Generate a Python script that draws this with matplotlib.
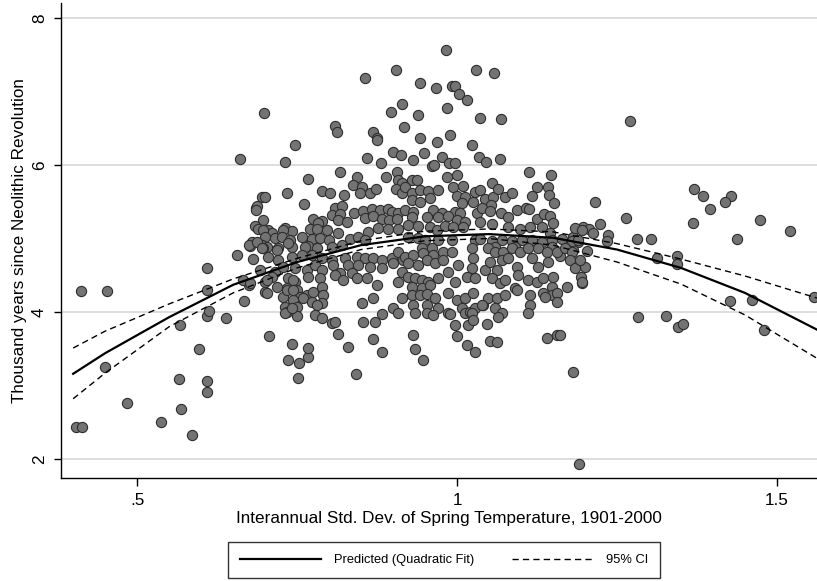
import numpy as np
import matplotlib
matplotlib.use("Agg")
import matplotlib.pyplot as plt
from matplotlib.lines import Line2D

plt.rcParams['font.family'] = ['Liberation Sans', 'DejaVu Sans']

# (std. dev. of spring temperature, thousand years since Neolithic Revolution)
low_points = [
    (0.405, 2.44), (0.414, 2.44), (0.413, 4.29), (0.453, 4.29), (0.450, 3.25), (0.484, 2.76), (0.538, 2.50),
    (0.567, 3.82), (0.566, 3.09), (0.569, 2.68), (0.586, 2.33), (0.597, 3.50), (0.609, 3.06), (0.609, 2.91),
    (0.609, 3.95), (0.613, 4.01), (0.609, 4.30), (0.639, 3.92), (0.667, 4.15), (0.675, 4.37), (0.706, 3.67),
    (0.742, 3.56), (0.736, 3.35), (0.753, 3.31), (0.752, 3.10), (0.609, 4.60), (0.656, 4.78), (0.767, 3.39),
    (0.767, 3.51), (0.814, 3.70), (0.830, 3.52), (0.869, 3.63), (0.883, 3.46), (0.842, 3.16), (0.947, 3.35),
    (0.934, 3.50), (0.931, 3.69), (1.000, 3.67), (1.016, 3.55), (1.028, 3.46), (1.052, 3.61), (1.063, 3.59),
    (1.141, 3.65), (1.156, 3.69), (1.181, 3.18), (1.190, 1.93), (1.161, 3.69), (0.805, 3.85), (0.853, 3.86),
    (0.872, 3.86), (0.997, 3.82), (1.017, 3.82), (1.047, 3.84),
]

high_points = [
    (0.661, 6.08), (0.698, 6.71), (0.731, 6.04), (0.734, 5.62), (0.747, 6.27), (0.695, 5.56), (0.700, 5.56),
    (0.686, 5.41), (0.983, 7.56), (0.905, 7.29), (0.856, 7.18), (1.030, 7.29), (1.058, 7.25), (0.942, 7.12),
    (0.967, 7.05), (0.992, 7.07), (0.997, 7.07), (1.003, 6.97), (1.015, 6.88), (0.914, 6.83), (0.897, 6.72),
    (0.939, 6.68), (0.984, 6.78), (1.036, 6.64), (1.069, 6.63), (0.809, 6.53), (0.813, 6.45), (0.917, 6.52),
    (0.869, 6.45), (0.875, 6.37), (0.942, 6.37), (0.989, 6.41), (0.969, 6.31), (1.023, 6.27), (0.900, 6.18),
    (0.913, 6.14), (0.948, 6.16), (0.859, 6.10), (0.931, 6.07), (0.977, 6.11), (1.034, 6.11), (1.045, 6.04),
    (1.067, 6.08), (0.881, 6.03), (0.961, 5.99), (0.964, 6.00), (0.988, 6.03), (0.997, 6.03), (1.113, 5.90),
    (1.147, 5.86), (0.817, 5.90), (0.767, 5.81), (0.761, 5.47), (0.789, 5.65), (0.802, 5.62), (0.875, 6.34),
    (1.270, 6.60),
]

right_points = [
    (1.370, 5.67), (1.384, 5.58), (1.395, 5.40), (1.428, 5.58), (1.419, 5.50), (1.369, 5.21), (1.473, 5.25),
    (1.520, 5.10), (1.438, 4.99), (1.216, 5.50), (1.264, 5.28), (1.223, 5.20), (1.197, 5.16), (1.206, 5.13),
    (1.212, 5.08), (1.236, 5.05), (1.234, 4.97), (1.281, 5.00), (1.303, 5.00), (1.181, 5.02), (1.189, 4.95),
    (1.181, 4.84), (1.203, 4.83), (1.190, 4.70), (1.200, 4.61), (1.194, 4.48), (1.195, 4.40), (1.313, 4.73),
    (1.344, 4.76), (1.344, 4.65), (1.161, 4.76), (1.283, 3.93), (1.327, 3.95), (1.345, 3.80), (1.353, 3.84),
    (1.427, 4.15), (1.461, 4.16), (1.480, 3.76), (1.558, 4.20),
]

core_top = [
    (0.844, 5.84), (0.837, 5.73), (0.851, 5.70), (0.889, 5.84), (0.906, 5.90), (0.908, 5.80), (0.914, 5.76),
    (0.823, 5.59), (0.848, 5.62), (0.864, 5.62), (0.873, 5.67), (0.905, 5.67), (0.914, 5.62), (0.687, 5.44),
    (0.686, 5.39), (0.809, 5.41), (0.820, 5.44), (0.839, 5.35), (0.805, 5.32), (0.817, 5.33), (0.853, 5.37),
    (0.867, 5.40), (0.880, 5.39), (0.892, 5.40), (0.898, 5.36), (0.908, 5.35), (0.856, 5.28), (0.869, 5.31),
    (0.883, 5.27), (0.894, 5.25), (0.906, 5.27), (0.775, 5.27), (0.789, 5.24), (0.783, 5.21), (0.814, 5.25),
    (0.828, 5.22), (0.697, 5.25), (0.684, 5.17), (0.689, 5.13), (0.705, 5.12), (0.711, 5.08), (0.731, 5.14),
    (0.742, 5.10), (0.770, 5.13), (0.781, 5.13), (0.797, 5.12), (0.814, 5.08), (0.861, 5.09), (0.877, 5.14),
    (0.892, 5.13), (0.908, 5.13), (0.697, 5.12), (0.728, 5.12),
    (0.984, 5.84), (1.000, 5.86), (0.930, 5.80), (0.938, 5.80), (0.994, 5.70), (1.009, 5.72), (1.055, 5.76),
    (1.125, 5.70), (1.142, 5.70), (1.117, 5.58), (1.144, 5.59), (0.919, 5.70), (0.930, 5.62), (0.942, 5.66),
    (0.955, 5.65), (0.970, 5.66), (1.000, 5.58), (1.012, 5.56), (1.028, 5.63), (1.036, 5.66), (1.044, 5.54),
    (1.056, 5.56), (1.064, 5.67), (1.075, 5.56), (1.086, 5.62), (0.930, 5.52), (0.942, 5.50), (0.958, 5.55),
    (1.008, 5.48), (1.025, 5.50), (1.053, 5.46), (1.152, 5.48), (0.919, 5.39), (0.931, 5.36), (0.962, 5.39),
    (0.977, 5.35), (0.997, 5.36), (1.005, 5.35), (1.031, 5.35), (1.039, 5.42), (1.052, 5.37), (1.069, 5.35),
    (1.080, 5.29), (1.094, 5.39), (1.108, 5.42), (1.112, 5.40), (1.125, 5.27), (1.136, 5.33), (1.145, 5.31),
    (1.150, 5.21), (0.930, 5.29), (0.953, 5.29), (0.970, 5.29), (0.986, 5.31), (1.000, 5.25), (1.012, 5.22),
    (1.036, 5.22), (1.055, 5.20), (0.923, 5.18), (0.939, 5.17), (0.958, 5.16), (0.969, 5.12), (0.981, 5.17),
    (0.994, 5.16), (1.009, 5.16), (1.080, 5.16), (1.098, 5.13), (1.114, 5.16), (1.133, 5.16), (1.184, 5.14),
    (1.195, 5.12),
]

core_mid = [
    (0.700, 5.02), (0.716, 5.01), (0.727, 5.02), (0.739, 4.98), (0.758, 5.02), (0.773, 4.99), (0.786, 5.01),
    (0.800, 4.98), (0.833, 4.99), (0.845, 5.02), (0.856, 4.98), (0.680, 4.95), (0.677, 4.90), (0.695, 4.91),
    (0.703, 4.88), (0.720, 4.87), (0.742, 4.88), (0.767, 4.90), (0.675, 4.91), (0.687, 4.95), (0.697, 4.87),
    (0.736, 4.94), (0.923, 5.02), (0.939, 5.01), (0.950, 4.98), (0.970, 4.98), (0.992, 4.98), (1.028, 4.98),
    (1.036, 4.99), (1.055, 4.97), (1.070, 4.98), (1.086, 4.97), (1.101, 4.98), (1.117, 4.98), (1.133, 4.95),
    (1.145, 5.08), (1.148, 4.98), (1.164, 4.99), (1.180, 4.97), (1.189, 4.98), (0.945, 4.87), (0.961, 4.87),
    (1.023, 4.87), (1.059, 4.88), (1.091, 4.88), (1.127, 4.87), (1.148, 4.88),
    (0.695, 4.87), (0.719, 4.84), (0.762, 4.88), (0.781, 4.87), (0.805, 4.88), (0.820, 4.91), (0.681, 4.72),
    (0.705, 4.75), (0.720, 4.71), (0.742, 4.75), (0.758, 4.78), (0.773, 4.78), (0.789, 4.74), (0.805, 4.71),
    (0.825, 4.74), (0.844, 4.75), (0.856, 4.74), (0.869, 4.74), (0.883, 4.71), (0.898, 4.74), (0.908, 4.82),
    (0.916, 4.71), (0.692, 4.57), (0.716, 4.54), (0.728, 4.61), (0.747, 4.60), (0.766, 4.57), (0.778, 4.64),
    (0.789, 4.57), (0.806, 4.64), (0.817, 4.53), (0.830, 4.64), (0.845, 4.64), (0.864, 4.61), (0.883, 4.60),
    (0.900, 4.67), (0.914, 4.55), (0.919, 4.75), (0.931, 4.78), (0.947, 4.80), (0.962, 4.78), (0.978, 4.82),
    (0.992, 4.82), (1.025, 4.74), (1.048, 4.87), (1.059, 4.82), (1.072, 4.82), (1.086, 4.87), (1.098, 4.82),
    (1.111, 4.87), (1.141, 4.82), (1.156, 4.82), (1.169, 4.87), (1.180, 4.82), (0.923, 4.67), (0.939, 4.64),
    (0.953, 4.71), (0.966, 4.67), (0.978, 4.71), (0.986, 4.54), (1.002, 4.64), (1.023, 4.60), (1.044, 4.57),
    (1.052, 4.68), (1.063, 4.57), (1.070, 4.71), (1.080, 4.74), (1.094, 4.61), (1.117, 4.74), (1.127, 4.61),
    (1.142, 4.68), (1.177, 4.71), (1.184, 4.60), (1.192, 4.71),
]

core_low = [
    (0.666, 4.44), (0.677, 4.40), (0.700, 4.41), (0.711, 4.48), (0.736, 4.46), (0.747, 4.41), (0.767, 4.48),
    (0.786, 4.46), (0.809, 4.50), (0.836, 4.53), (0.844, 4.46), (0.859, 4.46), (0.908, 4.41), (0.700, 4.27),
    (0.719, 4.34), (0.734, 4.33), (0.750, 4.30), (0.755, 4.20), (0.766, 4.23), (0.775, 4.27), (0.789, 4.34),
    (0.791, 4.23), (0.822, 4.44), (0.875, 4.37), (0.728, 4.20), (0.744, 4.16), (0.759, 4.19), (0.773, 4.14),
    (0.789, 4.12), (0.852, 4.12), (0.869, 4.19), (0.914, 4.19), (0.731, 4.07), (0.734, 4.00), (0.750, 4.07),
    (0.781, 4.10), (0.750, 3.95), (0.778, 3.96), (0.789, 3.92), (0.809, 3.86), (0.883, 3.97), (0.900, 4.06),
    (0.908, 3.99), (0.703, 4.44), (0.734, 4.30), (0.744, 4.44), (0.703, 4.26), (0.731, 3.99), (0.742, 4.06),
    (0.744, 4.30), (1.016, 4.48), (0.923, 4.48), (0.934, 4.46), (0.945, 4.44), (0.955, 4.41), (0.970, 4.46),
    (0.997, 4.41), (1.028, 4.46), (1.055, 4.46), (1.067, 4.40), (1.075, 4.44), (1.091, 4.33), (1.111, 4.44),
    (1.125, 4.41), (1.134, 4.46), (1.148, 4.34), (1.172, 4.34), (1.195, 4.41), (1.095, 4.50), (1.150, 4.48),
    (0.930, 4.34), (0.945, 4.33), (0.958, 4.37), (0.986, 4.26), (1.000, 4.16), (1.012, 4.19), (1.025, 4.26),
    (1.041, 4.10), (1.048, 4.19), (1.063, 4.19), (1.075, 4.23), (1.094, 4.30), (1.114, 4.23), (1.134, 4.26),
    (1.148, 4.23), (1.156, 4.26), (0.930, 4.23), (0.942, 4.23), (0.953, 4.25), (0.966, 4.19), (0.970, 4.05),
    (0.986, 3.99), (1.008, 4.05), (1.012, 3.99), (1.020, 4.00), (1.028, 4.05), (1.039, 4.10), (1.059, 4.05),
    (1.070, 3.99), (1.114, 4.10), (1.138, 4.20), (1.156, 4.14), (0.931, 4.10), (0.953, 4.10), (0.934, 3.99),
    (0.953, 3.99), (0.962, 3.96), (0.989, 3.97), (1.023, 3.99), (1.025, 3.89), (1.064, 3.93), (1.111, 3.99),
]

# quadratic fit and its 95% band
fit_sd = [0.40, 0.45, 0.55, 0.65, 0.75, 0.85, 0.95, 1.05, 1.15, 1.25, 1.35, 1.45, 1.5625]
fit_pred = [3.16, 3.44, 3.93, 4.37, 4.68, 4.91, 5.03, 5.06, 5.01, 4.85, 4.60, 4.26, 3.76]
ci_upper = [3.51, 3.74, 4.11, 4.45, 4.73, 4.97, 5.10, 5.13, 5.09, 4.93, 4.72, 4.49, 4.19]
ci_lower = [2.82, 3.17, 3.80, 4.26, 4.60, 4.85, 4.97, 5.00, 4.91, 4.68, 4.38, 3.96, 3.37]

x_ticks = [0.5, 1.0, 1.5]
x_tick_labels = ['.5', '1', '1.5']
y_ticks = [2, 4, 6, 8]

pts = np.array(low_points + high_points + right_points + core_top + core_mid + core_low)

fig = plt.figure(figsize=(8.17, 5.81), dpi=100)
ax = fig.add_axes([61/817, 103/581, 756/817, 475/581])

for y in y_ticks:
    ax.axhline(y, color='#dddddd', lw=1.4, zorder=0)

ax.scatter(pts[:, 0], pts[:, 1], s=54, facecolor='#737373', edgecolor='#2e2e2e',
           linewidth=0.8, zorder=2)

ax.plot(fit_sd, fit_pred, color='black', lw=1.6, zorder=4)
ax.plot(fit_sd, ci_upper, color='black', lw=1.0, ls=(0, (4.5, 3)), zorder=3)
ax.plot(fit_sd, ci_lower, color='black', lw=1.0, ls=(0, (4.5, 3)), zorder=3)

ax.set_xlim(0.381, 1.5625)
ax.set_ylim(1.742, 8.204)
ax.set_xticks(x_ticks)
ax.set_xticklabels(x_tick_labels)
ax.set_yticks(y_ticks)
ax.tick_params(axis='x', length=6, width=1, labelsize=12.3, pad=5)
ax.tick_params(axis='y', length=5, width=1, labelsize=12.3, pad=5, labelrotation=90)
for lab in ax.get_yticklabels():
    lab.set_va('center')

for side in ['top', 'right']:
    ax.spines[side].set_visible(False)
for side in ['left', 'bottom']:
    ax.spines[side].set_linewidth(1.0)

ax.set_xlabel('Interannual Std. Dev. of Spring Temperature, 1901-2000', fontsize=12.3, labelpad=2)
ax.xaxis.label.set_x(0.513)
ax.set_ylabel('Thousand years since Neolithic Revolution', fontsize=12.3, labelpad=4)

handles = [Line2D([], [], color='black', lw=1.6),
           Line2D([], [], color='black', lw=1.0, ls=(0, (4.5, 3)))]
leg = fig.legend(handles, ['Predicted (Quadratic Fit)', '95% CI'], loc='center',
                 bbox_to_anchor=(444/817, 1 - 560/581), ncol=2, fontsize=9.3,
                 frameon=True, fancybox=False, edgecolor='black',
                 handlelength=6.3, handletextpad=1.0, columnspacing=2.9, borderpad=0.9)
leg.get_frame().set_linewidth(1.0)

fig.savefig('out.png', dpi=100)
